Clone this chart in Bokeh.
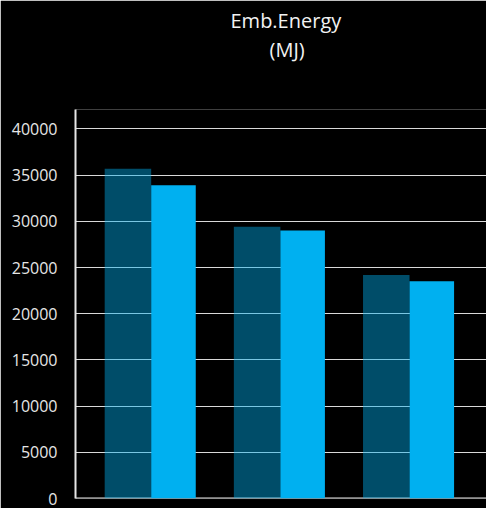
from bokeh.plotting import figure
from bokeh.models import ColumnDataSource, Range1d, SingleIntervalTicker, FixedTicker, Title
from bokeh.transform import dodge
from bokeh.embed import file_html
from bokeh.resources import INLINE

# ---- data ----
categories = ["Option 1", "Option 2", "Option 3"]
series_dark = [35700, 29400, 24200]
series_light = [33900, 29000, 23500]
title_line1 = "Emb.Energy"
title_line2 = "(MJ)"
tick_step = 5000

x = list(range(len(categories)))
src = ColumnDataSource(dict(x=x, cat=categories, dark=series_dark, light=series_light))

p = figure(width=486, height=508, output_backend="svg", toolbar_location=None,
           x_range=Range1d(-0.586, 2.596), y_range=Range1d(0, 42100),
           min_border_left=75, min_border_right=0, min_border_bottom=10, min_border_top=109,
           background_fill_color="black", border_fill_color="black")
p.outline_line_color = None

p.vbar(x=dodge("x", -0.18, range=p.x_range), top="dark", bottom=0, width=0.36, source=src,
       fill_color="#00b0f0", fill_alpha=0.44, line_color=None)
p.vbar(x=dodge("x", 0.1725, range=p.x_range), top="light", bottom=0, width=0.345, source=src,
       fill_color="#00b0f0", fill_alpha=1.0, line_color=None)

# y axis
ya = p.yaxis[0]
ya.ticker = SingleIntervalTicker(interval=tick_step, num_minor_ticks=0)
ya.major_tick_out = 0
ya.major_tick_in = 0
ya.minor_tick_out = 0
ya.minor_tick_in = 0
ya.axis_line_color = "#e6e6e6"
ya.axis_line_width = 2
ya.major_label_text_font = "Open Sans"
ya.major_label_text_font_size = "16px"
ya.major_label_text_color = "#e6e6e6"
ya.major_label_standoff = 18

# x axis (line only, no labels)
xa = p.xaxis[0]
xa.ticker = FixedTicker(ticks=[])
xa.major_label_standoff = 0
xa.major_tick_out = 0
xa.major_tick_in = 0
xa.minor_tick_out = 0
xa.minor_tick_in = 0
xa.axis_line_color = "#e6e6e6"
xa.axis_line_width = 2
xa.level = "underlay"

p.xgrid.visible = False
p.ygrid.ticker = ya.ticker
p.ygrid.grid_line_color = "#d9d9d9"
p.ygrid.grid_line_width = 1

p.title = None
# spacer between title block and plot frame
p.add_layout(Title(text=" ", text_font_size="1px", standoff=44), "above")
p.add_layout(Title(text=title_line2, align="left", offset=194, text_font="Open Sans",
                   text_font_size="20px", text_font_style="normal", text_color="#f2f2f2",
                   standoff=0), "above")
p.add_layout(Title(text=title_line1, align="left", offset=155, text_font="Open Sans",
                   text_font_size="20px", text_font_style="normal", text_color="#f2f2f2",
                   standoff=0), "above")

open("out.html", "w").write(file_html(p, INLINE))
